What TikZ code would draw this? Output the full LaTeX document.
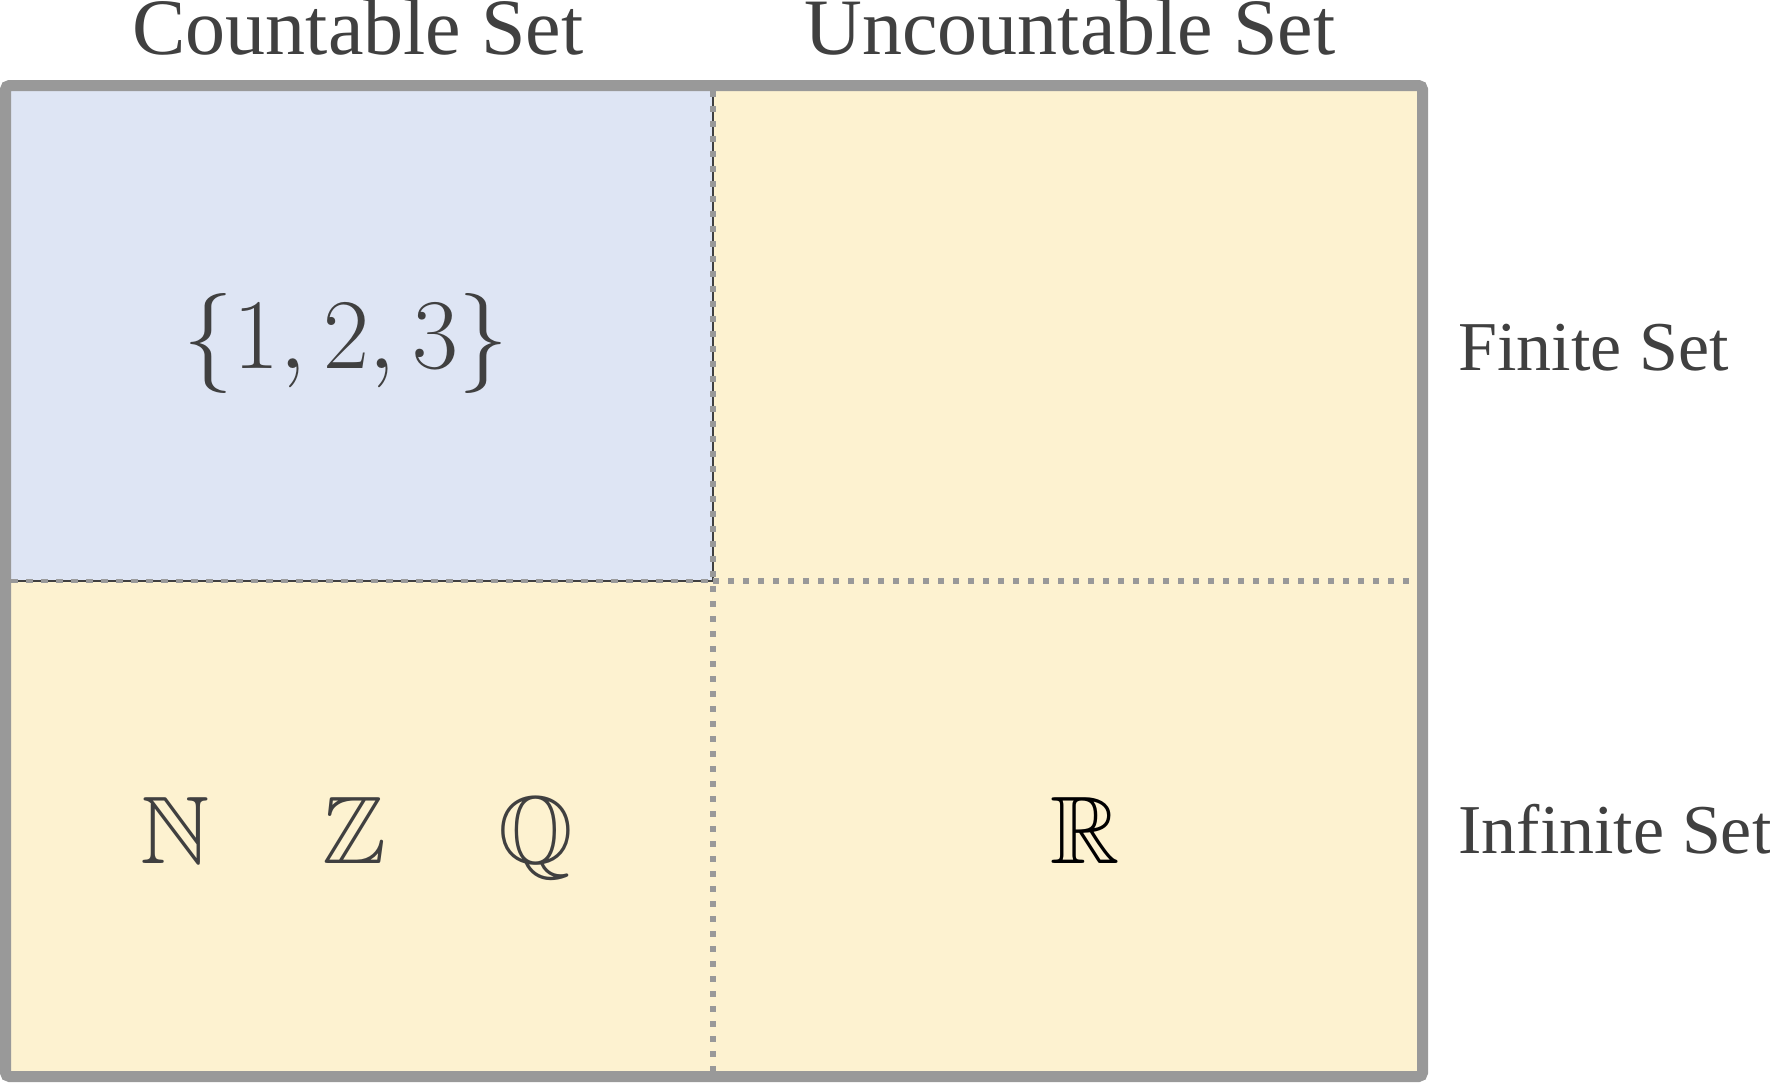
\documentclass[tikz,border=0pt]{standalone}
\usepackage{amssymb}
\usepackage{graphicx}
\usepackage[no-math]{fontspec}
\setmainfont{Liberation Serif}
\definecolor{txt}{HTML}{404040}
\definecolor{bluefill}{HTML}{DEE5F4}
\definecolor{yellowfill}{HTML}{FDF2D0}
\definecolor{frame}{HTML}{999999}
\newcommand{\bigmath}[2]{\scalebox{#1}{\fontsize{24.88}{30}\selectfont$#2$}}
\tikzset{
  headlabel/.style={anchor=base, inner sep=0pt, text=txt, font=\fontsize{40}{45}\selectfont},
  sidelabel/.style={anchor=base west, inner sep=0pt, text=txt, font=\fontsize{35}{40}\selectfont},
  mathlabel/.style={anchor=base, inner sep=0pt, text=txt},
  thickdots/.style={draw=frame, line width=3pt, dash pattern=on 3pt off 4.5pt},
  thindots/.style={draw=frame, line width=2pt, dash pattern=on 3.5pt off 4pt},
}
\begin{document}
\begin{tikzpicture}[x=0.5pt,y=-0.5pt]
\useasboundingbox (0,0) rectangle (1770,1082);
% fills
\fill[yellowfill] (5.5,85.5) rectangle (1422.5,1076.5);
\fill[bluefill] (11,91) rectangle (713,581);
\draw[txt, line width=0.6pt] (11,581) -- (713,581) -- (713,91);
% dividers
\draw[thickdots] (713,91) -- (713,1071);
\draw[thickdots] (713,581) -- (1417,581);
\draw[thindots] (11,581) -- (713,581);
% outer frame
\draw[frame, line width=5.5pt, rounded corners=2pt] (5.5,85.5) rectangle (1422.5,1076.5);
% labels
\node[headlabel] (countable) at (358,54) {Countable Set};
\node[headlabel] (uncountable) at (1070,54) {Uncountable Set};
\node[sidelabel] (finite) at (1458,370) {Finite Set};
\node[sidelabel] (infinite) at (1458,853) {Infinite Set};
\node[mathlabel] (finiteset) at (346,368) {\bigmath{2.01}{\{1, 2, 3\}}};
\node[mathlabel] (nat) at (175,863) {\bigmath{1.93}{\mathbb{N}}};
\node[mathlabel] (int) at (355,863) {\bigmath{1.93}{\mathbb{Z}}};
\node[mathlabel] (rat) at (536,863) {\bigmath{1.93}{\mathbb{Q}}};
\node[mathlabel, text=black] (real) at (1085,863) {\bigmath{1.93}{\mathbb{R}}};
\end{tikzpicture}
\end{document}
